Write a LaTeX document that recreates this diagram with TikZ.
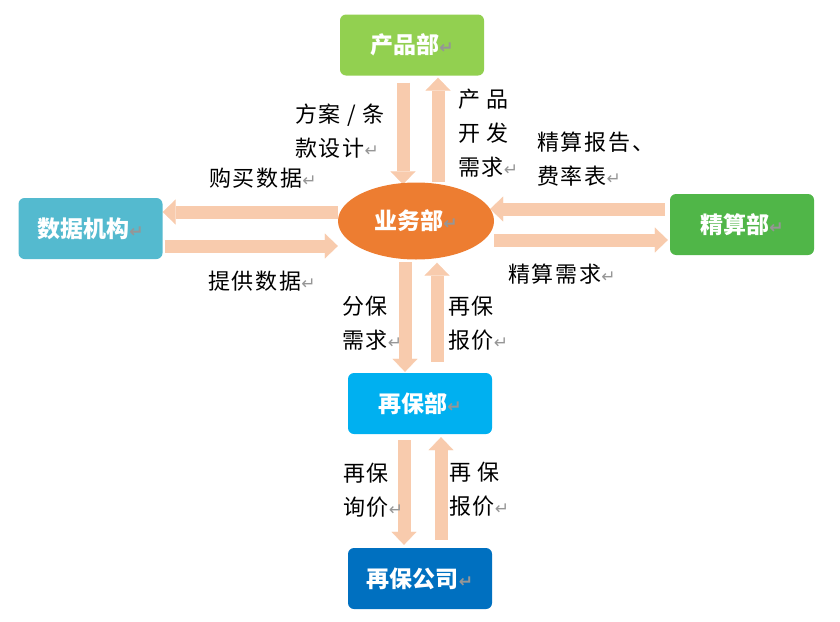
\documentclass[tikz,border=0pt]{standalone}
\usepackage{fontspec}
\setmainfont{Noto Sans CJK SC}
\newfontfamily\lblfont{Noto Sans CJK SC}[LetterSpace=8]
\newfontfamily\symfont{DejaVu Sans}
\usetikzlibrary{arrows.meta,shapes.geometric,backgrounds}
\definecolor{peach}{RGB}{248,203,173}
\definecolor{cpgreen}{RGB}{146,208,80}
\definecolor{ywor}{RGB}{237,125,49}
\definecolor{sjteal}{RGB}{84,186,207}
\definecolor{jsgreen}{RGB}{80,182,72}
\definecolor{zbblue}{RGB}{0,176,240}
\definecolor{gsblue}{RGB}{0,112,192}
\definecolor{markgray}{RGB}{150,150,150}
\newcommand{\rt}{{\symfont\color{markgray}\fontsize{17}{17}\selectfont ↵}}
\begin{document}
\begin{tikzpicture}[x=1pt,y=-1pt,
  box/.style={rectangle,rounded corners=6pt,minimum width=144pt,minimum height=61pt,inner sep=0pt,text=white,font=\fontsize{23}{23}\selectfont\bfseries},
  lbl/.style={anchor=north west,inner sep=0pt,align=left,font=\lblfont\fontsize{22}{34}\selectfont},
  blk/.style={line width=13pt,draw=peach,-{Triangle[width=25pt,length=13pt,line width=0.1pt]}},
]
\useasboundingbox (0,0) rectangle (840,621);
% nodes
\node[box,fill=cpgreen] (cp) at (412,45) {产品部\rt};
\node[ellipse,fill=ywor,minimum width=156pt,minimum height=77pt,inner sep=0pt,text=white,font=\fontsize{23}{23}\selectfont\bfseries] (yw) at (416,221) {业务部\rt};
\node[box,fill=sjteal] (sj) at (90.5,228.5) {数据机构\rt};
\node[box,fill=jsgreen] (js) at (742,224.5) {精算部\rt};
\node[box,fill=zbblue] (zbb) at (420,403.5) {再保部\rt};
\node[box,fill=gsblue] (gs) at (420,578.5) {再保公司\rt};
% arrows
\begin{scope}[on background layer]
\draw[blk] ([xshift=-9pt,yshift=-7pt]cp.south) -- ([xshift=-13pt,yshift=-2pt]yw.north);
\draw[blk] ([xshift=22pt,yshift=0pt]yw.north) -- ([xshift=26pt,yshift=-2pt]cp.south);
\draw[blk] ([yshift=9pt]yw.west) -- ([yshift=16.5pt]sj.east);
\draw[blk] ([xshift=2pt,yshift=-17.5pt]sj.east) -- ([yshift=-25pt]yw.west);
\draw[blk] ([xshift=-5pt,yshift=15.5pt]js.west) -- ([xshift=-4pt,yshift=12pt]yw.east);
\draw[blk] ([yshift=-19pt]yw.east) -- ([xshift=-2pt,yshift=-15.5pt]js.west);
\draw[blk] ([xshift=-11pt,yshift=-2.5pt]yw.south) -- ([xshift=-15pt,yshift=1pt]zbb.north);
\draw[blk] ([xshift=17pt,yshift=11pt]zbb.north) -- ([xshift=21pt,yshift=-3pt]yw.south);
\draw[blk] ([xshift=-16pt,yshift=-6pt]zbb.south) -- ([xshift=-16pt,yshift=3pt]gs.north);
\draw[blk] ([xshift=21pt,yshift=8pt]gs.north) -- ([xshift=21pt,yshift=-3pt]zbb.south);
\end{scope}
% labels
\node[lbl] (l1) at (295,104) {方案 / 条\\款设计\rt};
\node[lbl] (l2) at (458,89) {产 品\\开 发\\需求\rt};
\node[lbl] (l3) at (209,168) {购买数据\rt};
\node[lbl] (l4) at (208,271) {提供数据\rt};
\node[lbl] (l5) at (537,132) {精算报告、\\费率表\rt};
\node[lbl] (l6) at (508,264) {精算需求\rt};
\node[lbl] (l7) at (342,296) {分保\\需求\rt};
\node[lbl] (l8) at (448,296) {再保\\报价\rt};
\node[lbl] (l9) at (343,463) {再保\\询价\rt};
\node[lbl] (l10) at (449,462) {再 保\\报价\rt};
\end{tikzpicture}
\end{document}
